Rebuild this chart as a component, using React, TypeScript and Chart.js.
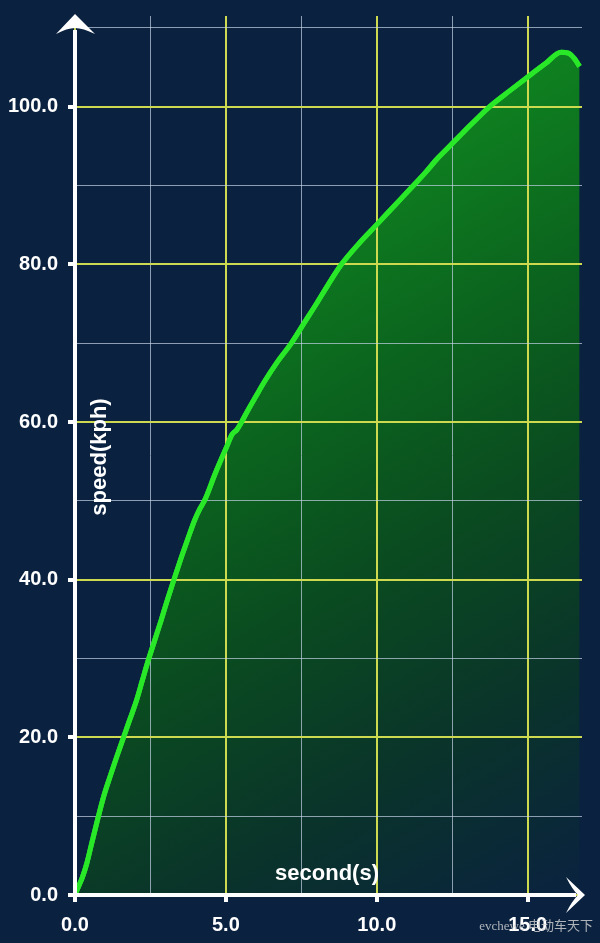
import { useEffect, useRef } from "react";
import { Chart, registerables } from "chart.js";

Chart.register(...registerables);

// ---- data ----
const timeS = [
  0, 0.11, 0.25, 0.39, 0.55, 0.77, 0.95, 1.16, 1.38, 1.6, 1.82, 2.04, 2.23, 2.43, 2.64,
  2.85, 3.05, 3.26, 3.53, 3.75, 3.97, 4.14, 4.3, 4.65, 5.03, 5.2, 5.36, 5.52, 5.73, 6.0,
  6.29, 6.7, 7.17, 7.6, 8.0, 8.4, 8.83, 9.4, 9.99, 10.6, 11.19, 11.6, 11.98, 12.42, 12.85,
  13.3, 13.74, 14.4, 15.01, 15.6, 16.11, 16.35, 16.55, 16.72,
];
const speedKph = [
  0, 1.0, 2.3, 4.0, 6.5, 9.9, 12.5, 15.0, 17.5, 19.9, 22.3, 24.7, 27.2, 29.8, 32.3,
  34.8, 37.3, 39.8, 42.9, 45.3, 47.6, 49.0, 50.1, 53.5, 56.9, 58.4, 59.0, 60.0, 61.5, 63.3,
  65.2, 67.6, 70.0, 72.6, 75.0, 77.5, 80.0, 82.6, 85.0, 87.5, 89.9, 91.6, 93.3, 95.0, 96.7,
  98.4, 100.0, 102.0, 103.8, 105.5, 106.9, 106.8, 106.1, 105.1,
];
const xTickLabels = ["0.0", "5.0", "10.0", "15.0"];
const yTickLabels = ["0.0", "20.0", "40.0", "60.0", "80.0", "100.0"];
const xAxisTitle = "second(s)";
const yAxisTitle = "speed(kph)";
const watermark = "evchewe 电动车天下";

const BG = "rgb(10,34,64)";
const LINE = "rgb(40,232,40)";
const MAJOR = "rgb(205,218,80)";
const MINOR = "rgba(195,210,230,0.7)";
const FONT = '"Liberation Sans", Arial, Helvetica, sans-serif';

const overlay = {
  id: "overlay",
  afterDraw(chart: any) {
    const ctx = chart.ctx as CanvasRenderingContext2D;
    const a = chart.chartArea;
    const meta = chart.getDatasetMeta(0);
    // redraw the line above the grid
    ctx.save();
    ctx.beginPath();
    ctx.rect(a.left, a.top - 5, a.right - a.left + 5, a.bottom - a.top + 5);
    ctx.clip();
    meta.dataset.draw(ctx, a);
    ctx.restore();

    const x0 = chart.scales.x.getPixelForValue(0);
    const y0 = chart.scales.y.getPixelForValue(0);

    ctx.save();
    ctx.strokeStyle = "#ffffff";
    ctx.fillStyle = "#ffffff";
    ctx.lineWidth = 4;
    ctx.beginPath();
    ctx.moveTo(x0, y0 + 4);
    ctx.lineTo(x0, 30);
    ctx.stroke();
    ctx.beginPath();
    ctx.moveTo(x0 - 2, y0);
    ctx.lineTo(576, y0);
    ctx.stroke();
    // y arrow
    ctx.beginPath();
    ctx.moveTo(x0, 14);
    ctx.lineTo(x0 + 20, 34);
    ctx.quadraticCurveTo(x0 + 8, 28, x0, 28);
    ctx.quadraticCurveTo(x0 - 8, 28, x0 - 19, 34);
    ctx.closePath();
    ctx.fill();
    // x arrow
    ctx.beginPath();
    ctx.moveTo(585, y0);
    ctx.lineTo(566, y0 - 18);
    ctx.quadraticCurveTo(572, y0 - 6, 578, y0);
    ctx.quadraticCurveTo(572, y0 + 6, 566, y0 + 18);
    ctx.closePath();
    ctx.fill();

    // axis titles
    ctx.font = `bold 22px ${FONT}`;
    ctx.textAlign = "center";
    ctx.textBaseline = "middle";
    ctx.fillText(xAxisTitle, 327, 874);
    ctx.save();
    ctx.translate(100, 457);
    ctx.rotate(-Math.PI / 2);
    ctx.fillText(yAxisTitle, 0, 0);
    ctx.restore();

    // watermark
    ctx.font = '13px "Liberation Serif", "Noto Sans CJK SC", serif';
    ctx.fillStyle = "rgba(215,215,215,0.8)";
    ctx.textAlign = "right";
    ctx.textBaseline = "middle";
    ctx.fillText(watermark, 593, 927);
    ctx.restore();
  },
};

export default function App() {
  const ref = useRef<HTMLCanvasElement | null>(null);

  useEffect(() => {
    if (!ref.current) return;
    const chart = new Chart(ref.current, {
      type: "line",
      data: {
        datasets: [
          {
            data: timeS.map((t, i) => ({ x: t, y: speedKph[i] })),
            borderColor: LINE,
            borderWidth: 5,
            pointRadius: 0,
            cubicInterpolationMode: "monotone",
            fill: "origin",
            backgroundColor: (c: any) => {
              const ar = c.chart.chartArea;
              if (!ar) return "rgba(0,0,0,0)";
              const g = c.chart.ctx.createLinearGradient(ar.left, ar.top, ar.right, ar.bottom);
              g.addColorStop(0, "rgb(22,170,40)");
              g.addColorStop(0.25, "rgb(15,132,32)");
              g.addColorStop(0.45, "rgb(11,100,30)");
              g.addColorStop(0.62, "rgb(10,75,32)");
              g.addColorStop(0.8, "rgb(10,52,42)");
              g.addColorStop(1, BG);
              return g;
            },
          },
        ],
      },
      options: {
        responsive: false,
        animation: false,
        layout: { padding: { top: 16, right: 18, left: 0, bottom: 0 } },
        plugins: { legend: { display: false }, tooltip: { enabled: false } },
        scales: {
          x: {
            type: "linear",
            min: 0,
            max: 16.8,
            z: 1,
            border: { display: false },
            afterFit: (s: any) => {
              s.height = 48;
              s.paddingLeft = 0;
              s.paddingRight = 0;
            },
            grid: {
              z: 1,
              color: (c: any) => (c.tick && c.tick.value % 5 === 0 ? MAJOR : MINOR),
              lineWidth: (c: any) => (c.tick && c.tick.value % 5 === 0 ? 2 : 1),
              tickColor: (c: any) => (c.tick && c.tick.value % 5 === 0 ? "#ffffff" : "rgba(0,0,0,0)"),
              tickLength: 7,
              tickWidth: 4,
            },
            ticks: {
              stepSize: 2.5,
              includeBounds: false,
              autoSkip: false,
              maxRotation: 0,
              padding: 11,
              color: "#ffffff",
              font: { family: FONT, size: 20, weight: "bold" },
              callback: (v: any) => {
                const n = Number(v);
                return n % 5 === 0 ? xTickLabels[n / 5] ?? "" : "";
              },
            },
          },
          y: {
            type: "linear",
            min: 0,
            max: 111.5,
            z: 1,
            border: { display: false },
            afterFit: (s: any) => {
              s.width = 75;
              s.paddingTop = 0;
              s.paddingBottom = 0;
            },
            grid: {
              z: 1,
              color: (c: any) => (c.tick && c.tick.value % 20 === 0 ? MAJOR : MINOR),
              lineWidth: (c: any) => (c.tick && c.tick.value % 20 === 0 ? 2 : 1),
              tickColor: (c: any) => (c.tick && c.tick.value % 20 === 0 ? "#ffffff" : "rgba(0,0,0,0)"),
              tickLength: 7,
              tickWidth: 4,
            },
            ticks: {
              stepSize: 10,
              includeBounds: false,
              autoSkip: false,
              padding: 10,
              color: "#ffffff",
              font: { family: FONT, size: 20, weight: "bold" },
              callback: (v: any) => {
                const n = Number(v);
                return n % 20 === 0 ? yTickLabels[n / 20] ?? "" : "";
              },
            },
          },
        },
      },
      plugins: [overlay],
    });
    return () => chart.destroy();
  }, []);

  return (
    <div
      style={{
        position: "absolute",
        left: 0,
        top: 0,
        width: 600,
        height: 943,
        background: BG,
        overflow: "hidden",
      }}
    >
      <canvas ref={ref} width={600} height={943} style={{ display: "block" }} />
    </div>
  );
}
